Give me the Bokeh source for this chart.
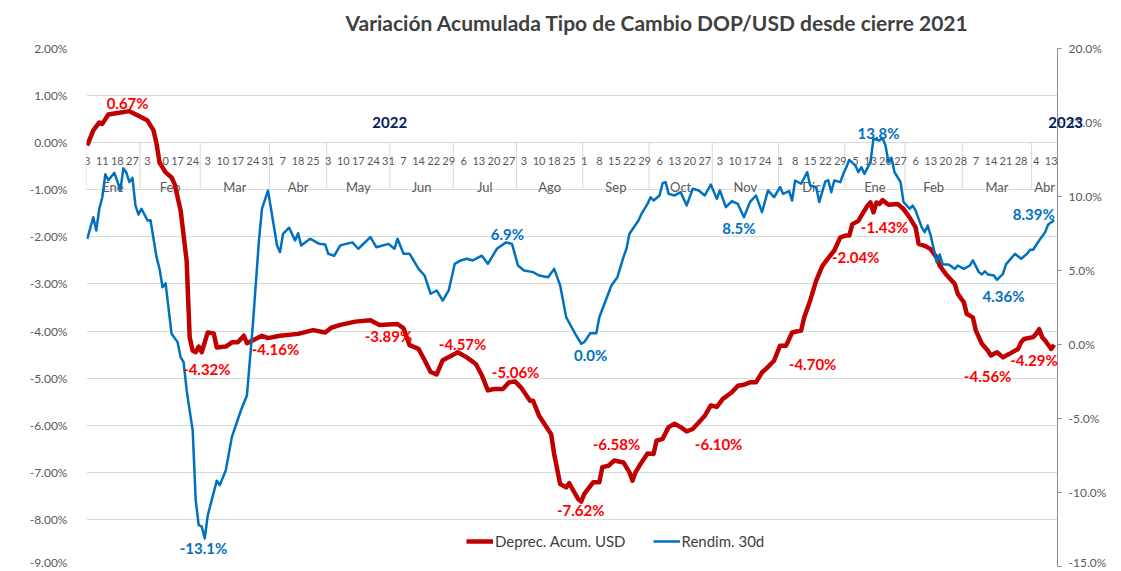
from bokeh.plotting import figure
from bokeh.models import (Range1d, LinearAxis, FixedTicker, PrintfTickFormatter, Label,
                          LabelSet, ColumnDataSource, Legend, LegendItem)
from bokeh.core.properties import value
from bokeh.embed import file_html
from bokeh.resources import INLINE

# ---------------- data ----------------
title_text = "Variación Acumulada Tipo de Cambio DOP/USD desde cierre 2021"
series_red = "Deprec. Acum. USD"
series_blue = "Rendim. 30d"

# business-day index (0 = 3 Ene 2022 ... 321 = 14 Abr 2023)
n_days = 322
day_labels = ["3", "11", "18", "27", "3", "10", "17", "24", "3", "10", "17", "24", "31",
              "7", "18", "25", "3", "10", "17", "24", "31", "7", "14", "22", "29",
              "6", "13", "20", "27", "3", "10", "18", "25", "1", "8", "15", "22", "29",
              "6", "13", "20", "27", "3", "10", "17", "24", "1", "8", "15", "22", "29",
              "5", "13", "20", "27", "6", "13", "20", "28", "7", "14", "21", "28", "4", "13"]
label_every = 5
month_names = ["Ene", "Feb", "Mar", "Abr", "May", "Jun", "Jul", "Ago", "Sep", "Oct", "Nov",
               "Dic", "Ene", "Feb", "Mar", "Abr"]
month_start = [0, 18, 38, 61, 80, 101, 122, 143, 165, 187, 208, 230, 252, 272, 291, 314]
year_names = ["2022", "2023"]
year_label_x = [100.4, 324.8]

red_idx = [0, 2, 4, 5, 7, 9, 14, 17, 20, 22, 23, 24, 26, 28, 29, 31, 33, 34, 35, 36,
           37, 38, 40, 42, 43, 46, 48, 50, 52, 53, 58, 60, 64, 70, 75, 79, 81, 84, 89, 94,
           97, 103, 105, 107, 110, 112, 114, 116, 118, 121, 123, 126, 129, 131, 133, 135, 138, 140, 142, 144,
           147, 148, 150, 154, 155, 157, 159, 160, 162, 163, 164, 165, 168, 170, 171, 173, 175, 178, 180, 181,
           182, 184, 186, 188, 189, 191, 193, 195, 197, 199, 201, 203, 205, 207, 209, 211, 214, 216, 218, 220,
           222, 224, 226, 228, 230, 232, 234, 237, 238, 240, 242, 244, 246, 248, 250, 252, 253, 254, 256, 257,
           259, 260, 261, 262, 263, 264, 266, 269, 271, 273, 275, 276, 278, 280, 282, 283, 285, 288, 289, 291,
           292, 294, 295, 297, 299, 300, 302, 304, 305, 306, 309, 310, 311, 314, 315, 316, 317, 318, 320, 321]
red_val = [-0.06, 0.26, 0.43, 0.40, 0.60, 0.62, 0.67, 0.57, 0.47, 0.26, -0.02, -0.42, -0.63, -0.74, -0.88, -1.44, -2.51, -4.13, -4.42, -4.45,
           -4.33, -4.45, -4.03, -4.05, -4.35, -4.33, -4.24, -4.24, -4.10, -4.26, -4.10, -4.15, -4.10, -4.06, -3.98, -4.03, -3.93, -3.87, -3.80, -3.77,
           -3.87, -3.85, -3.94, -4.30, -4.38, -4.62, -4.87, -4.92, -4.62, -4.52, -4.45, -4.56, -4.70, -4.94, -5.26, -5.23, -5.23, -5.09, -5.07, -5.20,
           -5.48, -5.48, -5.80, -6.19, -6.61, -7.25, -7.32, -7.23, -7.46, -7.57, -7.62, -7.46, -7.21, -7.21, -6.89, -6.86, -6.75, -6.79, -7.00, -7.18,
           -7.00, -6.79, -6.60, -6.61, -6.33, -6.29, -6.04, -5.97, -6.04, -6.13, -6.08, -5.94, -5.80, -5.58, -5.61, -5.44, -5.30, -5.16, -5.14, -5.09,
           -5.09, -4.88, -4.76, -4.63, -4.31, -4.31, -4.03, -3.99, -3.71, -3.35, -2.93, -2.62, -2.45, -2.29, -2.01, -1.97, -1.97, -1.73, -1.66, -1.55,
           -1.34, -1.27, -1.48, -1.27, -1.30, -1.22, -1.32, -1.30, -1.41, -1.59, -1.80, -2.15, -2.19, -2.26, -2.44, -2.61, -2.79, -3.00, -3.21, -3.39,
           -3.64, -3.71, -3.99, -4.27, -4.42, -4.52, -4.45, -4.56, -4.52, -4.49, -4.38, -4.24, -4.17, -4.13, -4.06, -3.96, -4.13, -4.20, -4.38, -4.29]

blue_idx = [0, 2, 3, 4, 5, 6, 7, 9, 11, 12, 13, 14, 15, 16, 17, 18, 20, 21, 23, 24,
            25, 26, 28, 30, 31, 32, 33, 35, 36, 37, 38, 39, 40, 43, 44, 46, 48, 51, 53, 55,
            57, 58, 60, 61, 63, 64, 65, 67, 69, 70, 71, 74, 75, 77, 79, 80, 82, 84, 88, 90,
            94, 96, 100, 102, 103, 105, 107, 110, 112, 114, 116, 118, 120, 122, 124, 126, 128, 131, 133, 136,
            139, 141, 143, 145, 148, 150, 153, 155, 157, 159, 162, 164, 165, 167, 169, 170, 174, 176, 178, 179,
            180, 183, 184, 186, 187, 188, 190, 191, 192, 193, 195, 197, 199, 201, 203, 205, 207, 209, 210, 212,
            214, 216, 218, 220, 222, 224, 226, 228, 230, 231, 233, 234, 235, 237, 239, 240, 242, 243, 245, 246,
            247, 248, 250, 251, 252, 253, 255, 256, 257, 258, 260, 261, 263, 264, 265, 266, 267, 268, 270, 271,
            273, 274, 275, 277, 278, 279, 280, 282, 283, 284, 286, 288, 289, 291, 293, 294, 296, 297, 298, 299,
            301, 302, 304, 305, 308, 310, 312, 313, 314, 316, 318, 319, 321]
blue_val = [7.14, 8.60, 7.70, 9.17, 9.95, 11.50, 11.10, 11.60, 10.45, 11.90, 11.60, 10.97, 11.26, 9.40, 8.78, 9.17, 8.38, 8.40, 5.90, 5.11,
            3.87, 4.14, 0.72, 0.16, -0.86, -1.20, -3.10, -5.80, -10.50, -12.20, -12.30, -13.10, -11.55, -9.20, -9.50, -8.50, -6.26, -4.46, -3.45, 1.40,
            7.03, 9.17, 10.40, 9.17, 6.69, 6.24, 7.48, 7.90, 7.03, 7.52, 6.69, 7.14, 7.03, 6.80, 6.76, 6.13, 6.00, 6.70, 6.90, 6.47,
            7.25, 6.57, 6.80, 6.47, 7.14, 6.13, 6.13, 5.11, 4.66, 3.43, 3.65, 2.97, 3.65, 5.45, 5.68, 5.79, 5.68, 6.00, 5.45, 6.47,
            6.90, 6.80, 5.34, 5.00, 4.89, 4.66, 4.55, 5.11, 3.99, 1.84, 0.72, 0.05, 0.16, 0.76, 0.76, 1.84, 3.99, 4.55, 5.90, 6.47,
            7.48, 8.38, 8.83, 9.50, 9.95, 9.73, 10.07, 10.90, 10.97, 10.18, 10.07, 10.29, 9.40, 10.52, 10.41, 10.07, 10.81, 9.84, 10.41, 9.28,
            9.68, 9.50, 8.60, 9.62, 10.07, 8.94, 10.41, 9.95, 10.63, 10.18, 10.36, 9.73, 11.08, 10.86, 11.64, 10.74, 10.63, 9.62, 11.00, 11.10,
            10.29, 11.08, 10.97, 11.53, 11.98, 12.48, 12.09, 11.64, 11.98, 11.53, 12.32, 13.90, 13.78, 13.96, 13.45, 12.32, 12.61, 11.64, 10.97, 9.62,
            9.17, 9.39, 9.05, 7.93, 7.59, 8.04, 7.36, 5.56, 6.08, 5.41, 5.41, 5.11, 5.34, 5.11, 5.34, 5.68, 4.89, 4.73, 4.95, 4.73,
            4.66, 4.37, 4.78, 5.41, 6.13, 5.79, 6.13, 6.40, 6.40, 7.03, 7.59, 8.11, 8.39]

# data labels: text, x (business-day index), y (axis value)
red_labels = ["0.67%", "-4.32%", "-4.16%", "-3.89%", "-4.57%", "-5.06%", "-7.62%",
              "-6.58%", "-6.10%", "-4.70%", "-2.04%", "-1.43%", "-4.56%", "-4.29%"]
red_label_x = [13.4, 39.7, 62.5, 100.0, 124.6, 142.2, 163.8, 175.7, 209.6, 240.8, 255.1, 264.7, 298.9, 314.3]
red_label_y = [0.84, -4.80, -4.39, -4.10, -4.27, -4.88, -7.79, -6.39, -6.39, -4.71, -2.42, -1.80, -4.95, -4.61]
blue_labels = ["-13.1%", "6.9%", "0.0%", "8.5%", "13.8%", "4.36%", "8.39%"]
blue_label_x = [38.6, 139.5, 167.1, 216.3, 262.7, 304.2, 314.2]
blue_label_y = [-13.72, 7.5, -0.68, 7.84, 14.26, 3.31, 8.85]

left_ticks = list(range(-9, 3))
right_ticks = [-15, -10, -5, 0, 5, 10, 15, 20]

# ---------------- styling ----------------
FONT = "Lato"
GRAY = "#595959"
RED_LINE = "#C00000"
BLUE_LINE = "#0070C0"
RED_TXT = "#FF0000"
BLUE_TXT = "#0070C0"
NAVY = "#002060"

x_end = n_days + 0.1
p = figure(width=1119, height=569, output_backend="svg", toolbar_location=None,
           x_range=Range1d(-0.25, x_end), y_range=Range1d(left_ticks[0], left_ticks[-1]),
           x_axis_location=None, min_border_left=86, min_border_right=62,
           min_border_top=48, min_border_bottom=3)
p.extra_y_ranges = {"r": Range1d(right_ticks[0], right_ticks[-1])}
p.outline_line_color = None
p.background_fill_color = "white"
p.border_fill_color = "white"

# title
p.title.text = title_text
p.title.align = "left"
p.title.offset = 259
p.title.standoff = 6
p.title.text_font = FONT
p.title.text_font_style = "bold"
p.title.text_font_size = "21px"
p.title.text_color = "#404040"

# left axis
ly = p.yaxis[0]
ly.ticker = FixedTicker(ticks=left_ticks)
ly.formatter = PrintfTickFormatter(format="%.2f%%")
ly.axis_line_color = None
ly.major_tick_line_color = None
ly.minor_tick_line_color = None
ly.major_label_standoff = 13
ly.major_label_text_font = FONT
ly.major_label_text_font_size = "12px"
ly.major_label_text_color = GRAY

# right axis
ry = LinearAxis(y_range_name="r", ticker=FixedTicker(ticks=right_ticks),
                formatter=PrintfTickFormatter(format="%.1f%%"))
ry.axis_line_color = "#8C8C8C"
ry.major_tick_line_color = "#8C8C8C"
ry.major_tick_in = 0
ry.major_tick_out = 4
ry.minor_tick_line_color = None
ry.major_label_standoff = 7
ry.major_label_text_font = FONT
ry.major_label_text_font_size = "12px"
ry.major_label_text_color = GRAY
p.add_layout(ry, "right")

p.xgrid.visible = False
p.ygrid.grid_line_color = "#D9D9D9"
p.ygrid.grid_line_width = 1

# category axis drawn at 0 %
bounds = [-0.25] + [s - 0.5 for s in month_start[1:]]
p.segment(x0=bounds, y0=[0] * len(bounds), x1=bounds, y1=[-1] * len(bounds),
          line_color="#D9D9D9", line_width=1, level="underlay")

day_src = ColumnDataSource(dict(x=[k * label_every for k in range(len(day_labels))],
                                y=[0] * len(day_labels), t=day_labels))
p.add_layout(LabelSet(x="x", y="y", text="t", source=day_src, y_offset=-18,
                      text_align="center", text_baseline="middle", text_font=value(FONT),
                      text_font_size="11px", text_color=GRAY, level="underlay"))
ends = [s - 0.5 for s in month_start[1:]] + [x_end]
m_src = ColumnDataSource(dict(x=[(s - 0.5 + e) / 2 for s, e in zip(month_start, ends)],
                              y=[0] * len(month_names), t=month_names))
p.add_layout(LabelSet(x="x", y="y", text="t", source=m_src, y_offset=-44,
                      text_align="center", text_baseline="middle", text_font=value(FONT),
                      text_font_size="13px", text_color=GRAY, level="underlay"))

# series
r_red = p.line(red_idx, red_val, line_color=RED_LINE, line_width=4.5, line_join="round")
r_blue = p.line(blue_idx, blue_val, y_range_name="r", line_color=BLUE_LINE, line_width=2.5,
                line_join="round")

# data labels
for t, x, y in zip(red_labels, red_label_x, red_label_y):
    p.add_layout(Label(x=x, y=y, text=t, text_align="center", text_baseline="middle",
                       text_font=FONT, text_font_style="bold", text_font_size="15px",
                       text_color=RED_TXT))
for t, x, y in zip(blue_labels, blue_label_x, blue_label_y):
    p.add_layout(Label(x=x, y=y, y_range_name="r", text=t, text_align="center",
                       text_baseline="middle", text_font=FONT, text_font_style="bold",
                       text_font_size="15px", text_color=BLUE_TXT))

# year labels ("2023" sits over the right axis, so it lives in the top panel: no clipping)
for i, (t, x) in enumerate(zip(year_names, year_label_x)):
    lab = Label(x=x, y=0.43, text=t, text_align="center", text_baseline="middle",
                text_font=FONT, text_font_style="bold", text_font_size="15px",
                text_color=NAVY)
    p.add_layout(lab, "above" if i == 1 else "center")

# legend
legend = Legend(items=[LegendItem(label=series_red, renderers=[r_red]),
                       LegendItem(label=series_blue, renderers=[r_blue])],
                orientation="horizontal", location=(380, 16), padding=0, margin=0,
                spacing=27, glyph_width=27, glyph_height=16, label_standoff=2,
                label_text_font=FONT, label_text_font_size="15px", label_text_color="#404040",
                border_line_alpha=0, background_fill_alpha=0)
p.add_layout(legend)

open("out.html", "w").write(file_html(p, INLINE))
